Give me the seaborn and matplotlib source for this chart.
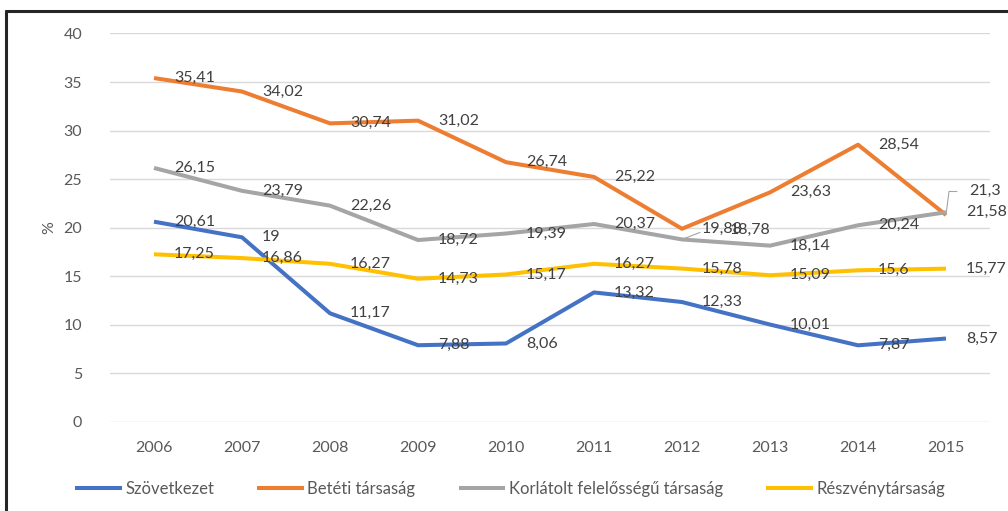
import matplotlib
matplotlib.use("Agg")
import matplotlib.pyplot as plt
from matplotlib.lines import Line2D
import numpy as np
import pandas as pd
import seaborn as sns

years = [2006, 2007, 2008, 2009, 2010, 2011, 2012, 2013, 2014, 2015]
series_names = ["Szövetkezet", "Betéti társaság",
                "Korlátolt felelősségű társaság", "Részvénytársaság"]
szovetkezet = [20.61, 19, 11.17, 7.88, 8.06, 13.32, 12.33, 10.01, 7.87, 8.57]
beteti = [35.41, 34.02, 30.74, 31.02, 26.74, 25.22, 19.88, 23.63, 28.54, 21.3]
kft = [26.15, 23.79, 22.26, 18.72, 19.39, 20.37, 18.78, 18.14, 20.24, 21.58]
rt = [17.25, 16.86, 16.27, 14.73, 15.17, 16.27, 15.78, 15.09, 15.6, 15.77]
colors = ["#4472C4", "#ED7D31", "#A5A5A5", "#FFC000"]
y_ticks = [0, 5, 10, 15, 20, 25, 30, 35, 40]

values = [szovetkezet, beteti, kft, rt]
df = pd.DataFrame({
    "year": np.tile(years, len(series_names)),
    "value": np.concatenate(values),
    "series": np.repeat(series_names, len(years)),
})

sns.set_theme(style="white")
plt.rcParams["font.family"] = ["Lato", "DejaVu Sans"]

W, H = 1008, 511
fig = plt.figure(figsize=(W / 100, H / 100), dpi=100)
ax = fig.add_axes([110 / W, 1 - 421.7 / H, 880 / W, (421.7 - 33.5) / H])

sns.lineplot(data=df, x="year", y="value", hue="series", hue_order=series_names,
             palette=colors, linewidth=2.9, legend=False, ax=ax,
             solid_capstyle="butt", zorder=3)

ax.set_xlim(2005.5, 2015.5)
ax.set_ylim(0, 40)
ax.set_yticks(y_ticks)
ax.set_xticks(years)
ax.set_xticklabels([str(y) for y in years])
for sp in ax.spines.values():
    sp.set_visible(False)
ax.yaxis.grid(True, color="#D9D9D9", linewidth=1.0)
ax.xaxis.grid(False)
ax.set_axisbelow(True)
ax.tick_params(axis="both", length=0, labelsize=11.5, labelcolor="#595959")
ax.tick_params(axis="y", pad=20)
ax.tick_params(axis="x", pad=14)
ax.set_xlabel("")
ax.set_ylabel("%", fontsize=11.5, color="#595959")
ax.yaxis.set_label_coords(-0.061, 0.5)


def fmt(v):
    s = f"{v:.2f}".rstrip("0").rstrip(".")
    return s.replace(".", ",")


label_style = dict(fontsize=11.5, color="#404040", va="center", ha="left", zorder=4)

# special placements for crowded labels (dx, dy in points)
special = {
    ("Korlátolt felelősségű társaság", 2012): (34, 7),
    ("Betéti társaság", 2015): (17, 17),
}

for name, vals in zip(series_names, values):
    for yr, v in zip(years, vals):
        dx, dy = special.get((name, yr), (14.5, 0))
        ax.annotate(fmt(v), xy=(yr, v), xytext=(dx, dy),
                    textcoords="offset points", annotation_clip=False,
                    **label_style)

# leader lines for moved labels (in pixels relative to the data point)
leader_style = dict(color="#A5A5A5", lw=0.8, zorder=5)
px, py = ax.transData.transform((2012, 18.78))
fig.add_artist(Line2D([px / W, (px + 18) / W], [py / H, (py + 7) / H], **leader_style))
px, py = ax.transData.transform((2015, 21.3))
fig.add_artist(Line2D([px / W, (px + 3) / W, (px + 11) / W],
                      [py / H, (py + 23.5) / H, (py + 23.5) / H], **leader_style))

handles = [Line2D([], [], color=c, lw=2.9, solid_capstyle="butt") for c in colors]
fig.legend(handles, series_names, loc="center",
           bbox_to_anchor=(510 / W, 1 - 489 / H), ncol=4, frameon=False,
           fontsize=12, labelcolor="#595959", handlelength=2.8,
           handletextpad=0.2, columnspacing=2.6, borderaxespad=0)

# outer chart frame
fig.add_artist(Line2D([6 / W, 1.0], [1 - 11 / H, 1 - 11 / H], color="#262626", lw=2.2))
fig.add_artist(Line2D([6 / W, 6 / W], [0, 1 - 11 / H], color="#262626", lw=2.2))

fig.savefig("out.png", dpi=100, facecolor="white")
